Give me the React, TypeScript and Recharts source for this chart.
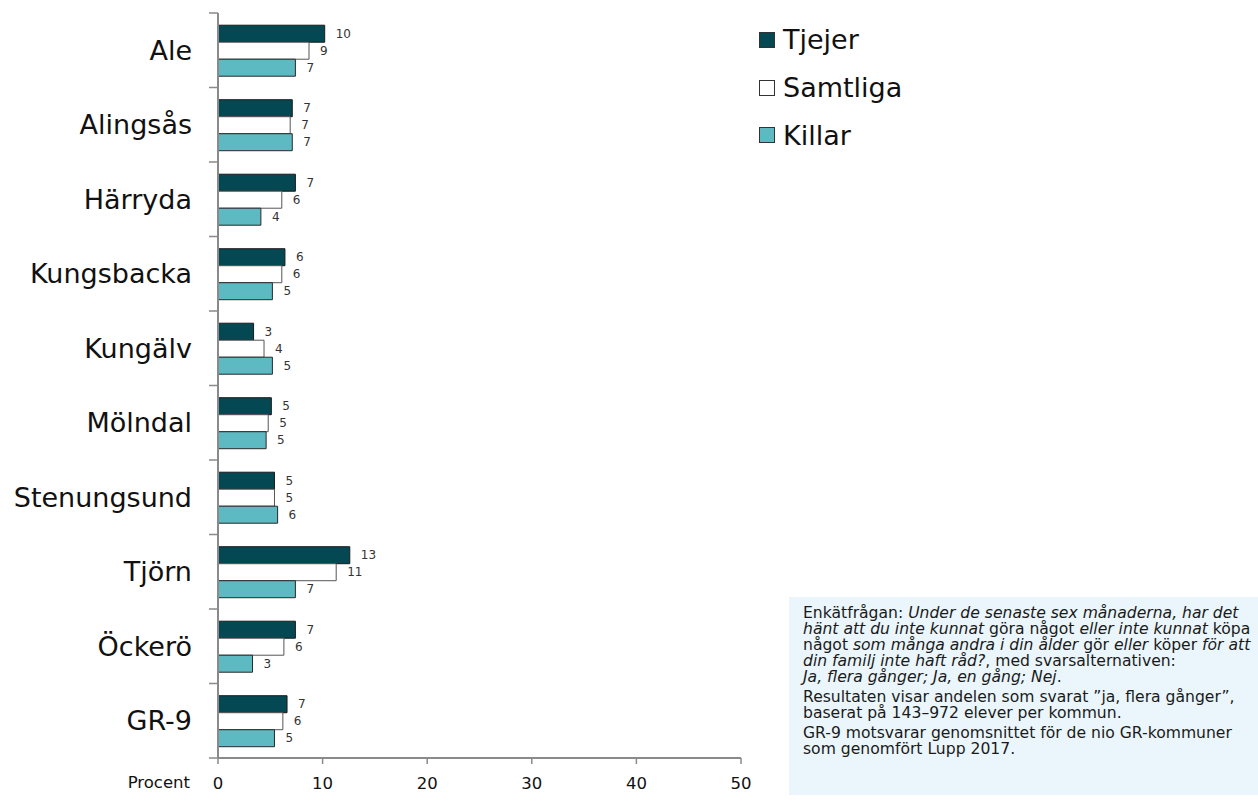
import React from 'react';
import { BarChart, Bar, XAxis, YAxis, Legend, LabelList } from 'recharts';

const categories = ['Ale', 'Alingsås', 'Härryda', 'Kungsbacka', 'Kungälv', 'Mölndal', 'Stenungsund', 'Tjörn', 'Öckerö', 'GR-9'];
const seriesNames = ['Tjejer', 'Samtliga', 'Killar'];
const tjejer = [10.2, 7.1, 7.4, 6.4, 3.4, 5.1, 5.4, 12.6, 7.4, 6.6];
const samtliga = [8.7, 6.9, 6.1, 6.1, 4.4, 4.8, 5.4, 11.3, 6.3, 6.2];
const killar = [7.4, 7.1, 4.1, 5.2, 5.2, 4.6, 5.7, 7.4, 3.3, 5.4];
const xTicks = [0, 10, 20, 30, 40, 50];

const data = categories.map((name, i) => ({
  name,
  Tjejer: tjejer[i],
  Samtliga: samtliga[i],
  Killar: killar[i],
}));

const FONT = '"DejaVu Sans", Verdana, sans-serif';
const AXIS = '#8a8a8a';
const TICK_SIZE = 9;
const TICK_MARGIN = 17;

// category label + boundary tick marks between the bands
const CategoryTick = (props: any) => {
  const { x, y, payload, index, visibleTicksCount } = props;
  const half = payload?.offset ?? 37.25;
  const axisX = x + TICK_SIZE + TICK_MARGIN;
  const isLast = index === visibleTicksCount - 1;
  return (
    <g>
      <line x1={axisX - TICK_SIZE} x2={axisX} y1={y - half} y2={y - half} stroke={AXIS} strokeWidth={1.5} />
      {isLast && (
        <line x1={axisX - TICK_SIZE} x2={axisX} y1={y + half} y2={y + half} stroke={AXIS} strokeWidth={1.5} />
      )}
      <text x={x} y={y} dy="0.36em" textAnchor="end" fontSize={27} fontFamily={FONT} fill="#111">
        {payload.value}
      </text>
    </g>
  );
};

const renderLegend = (props: any) => {
  const items = [...(props.payload || [])].sort(
    (a: any, b: any) => seriesNames.indexOf(a.value) - seriesNames.indexOf(b.value)
  );
  return (
    <div style={{ fontFamily: FONT }}>
      {items.map((entry: any) => (
        <div key={entry.value} style={{ display: 'flex', alignItems: 'center', height: 47.8 }}>
          <span
            style={{
              display: 'inline-block',
              width: 14,
              height: 14,
              background: entry.color,
              border: '1px solid #333',
              marginRight: 8,
            }}
          />
          <span style={{ fontSize: 27, color: '#111', lineHeight: 1 }}>{entry.value}</span>
        </div>
      ))}
    </div>
  );
};

const it = (s: string) => <i>{s}</i>;

const App: React.FC = () => {
  return (
    <div style={{ position: 'absolute', left: 0, top: 0, width: 1258, height: 807, background: '#fff', fontFamily: FONT }}>
      <BarChart
        width={1258}
        height={807}
        data={data}
        layout="vertical"
        margin={{ top: 13, right: 517, bottom: 0, left: 0 }}
        barCategoryGap="16.4%"
        barGap={0}
      >
        <XAxis
          type="number"
          domain={[0, 50]}
          ticks={xTicks}
          height={49}
          axisLine={{ stroke: AXIS, strokeWidth: 2 }}
          tickLine={{ stroke: AXIS, strokeWidth: 1.5 }}
          tickSize={6}
          tickMargin={13}
          tick={{ fontSize: 16.5, fontFamily: FONT, fill: '#111' }}
          label={{ value: 'Procent', position: 'left', offset: 28, fontSize: 16.5, fontFamily: FONT, fill: '#111' }}
        />
        <YAxis
          type="category"
          dataKey="name"
          width={218}
          axisLine={{ stroke: AXIS, strokeWidth: 2 }}
          tickLine={false}
          tickSize={TICK_SIZE}
          tickMargin={TICK_MARGIN}
          tick={<CategoryTick />}
          interval={0}
        />
        <Legend
          layout="vertical"
          align="center"
          verticalAlign="middle"
          content={renderLegend}
          wrapperStyle={{ position: 'absolute', left: 759, top: 16, width: 220 }}
        />
        <Bar dataKey="Tjejer" fill="#034853" stroke="#1a1a1a" strokeWidth={1} isAnimationActive={false}>
          <LabelList dataKey="Tjejer" position="right" offset={11} fontSize={12} fontFamily={FONT} fill="#333" formatter={(v: any) => Math.round(v)} />
        </Bar>
        <Bar dataKey="Samtliga" fill="#ffffff" stroke="#555" strokeWidth={1} isAnimationActive={false}>
          <LabelList dataKey="Samtliga" position="right" offset={11} fontSize={12} fontFamily={FONT} fill="#333" formatter={(v: any) => Math.round(v)} />
        </Bar>
        <Bar dataKey="Killar" fill="#5db9c2" stroke="#2a2a2a" strokeWidth={1} isAnimationActive={false}>
          <LabelList dataKey="Killar" position="right" offset={11} fontSize={12} fontFamily={FONT} fill="#333" formatter={(v: any) => Math.round(v)} />
        </Bar>
      </BarChart>

      <div
        style={{
          position: 'absolute',
          left: 789,
          top: 597,
          width: 469,
          height: 198,
          background: '#eaf6fb',
          boxSizing: 'border-box',
          padding: '8px 0 0 14px',
          fontSize: 15.6,
          lineHeight: '16px',
          color: '#1a1a1a',
          whiteSpace: 'nowrap',
          overflow: 'hidden',
        }}
      >
        <div>Enkätfrågan: {it('Under de senaste sex månaderna, har det')}</div>
        <div>{it('hänt att du inte kunnat')} göra något {it('eller inte kunnat')} köpa</div>
        <div>något {it('som många andra i din ålder')} gör {it('eller')} köper {it('för att')}</div>
        <div>{it('din familj inte haft råd?')}, med svarsalternativen:</div>
        <div>{it('Ja, flera gånger; Ja, en gång; Nej')}.</div>
        <div style={{ marginTop: 4 }}>Resultaten visar andelen som svarat ”ja, flera gånger”,</div>
        <div>baserat på 143–972 elever per kommun.</div>
        <div style={{ marginTop: 4 }}>GR-9 motsvarar genomsnittet för de nio GR-kommuner</div>
        <div>som genomfört Lupp 2017.</div>
      </div>
    </div>
  );
};

export default App;
